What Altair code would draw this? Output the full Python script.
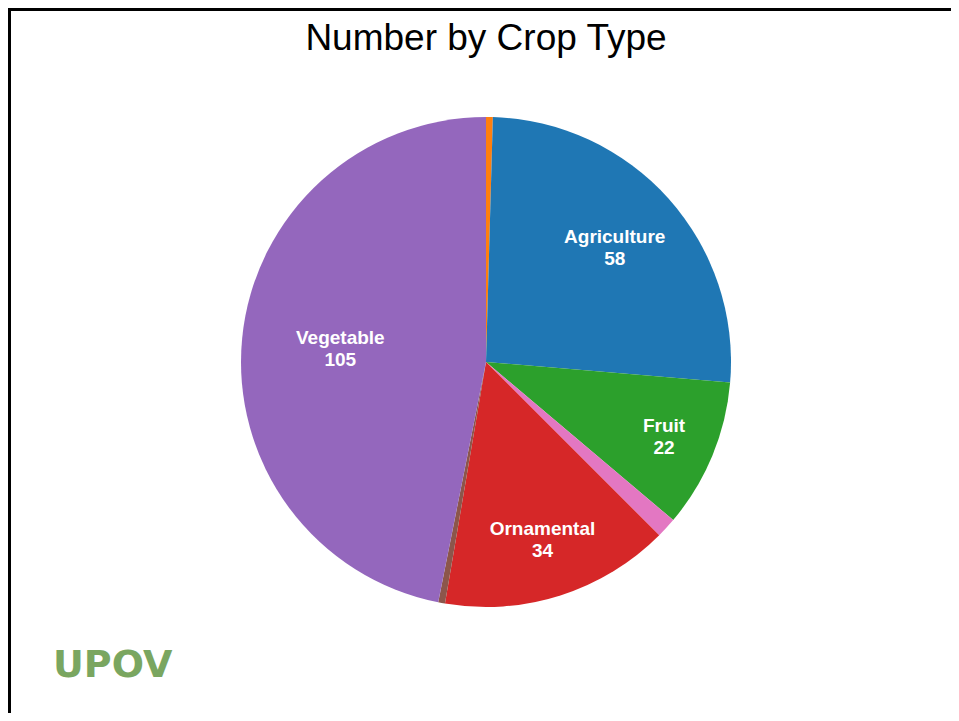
import altair as alt
import pandas as pd

# ---- data ----
categories = ["Forestry", "Agriculture", "Fruit", "Medicinal", "Ornamental", "Other", "Vegetable"]
counts = [1, 58, 22, 3, 34, 1, 105]
colors = ["#ff7f0e", "#1f77b4", "#2ca02c", "#e377c2", "#d62728", "#8c564b", "#9467bd"]
title_text = "Number by Crop Type"
logo_text = "UPOV"

df = pd.DataFrame({
    "crop": categories,
    "count": counts,
    "order": list(range(len(categories))),
})

W, H = 943, 705
CX, CY, R = 478, 354, 245
total = sum(counts)

base = alt.Chart(df)

pie = base.mark_arc(radius=R, strokeWidth=0).encode(
    theta=alt.Theta("count:Q", stack=True),
    color=alt.Color("crop:N", scale=alt.Scale(domain=categories, range=colors), legend=None),
    order=alt.Order("order:Q"),
    x=alt.value(CX),
    y=alt.value(CY),
)

labels = base.transform_calculate(
    label="datum.count >= 10 ? datum.crop + '\\n' + datum.count : ''"
).mark_text(
    font="Liberation Sans", fontWeight="bold", fontSize=19, color="white",
    lineBreak="\n", lineHeight=22, baseline="middle", align="center", dy=-10,
).encode(
    theta=alt.Theta("count:Q", stack=True),
    order=alt.Order("order:Q"),
    radius=alt.Radius("count:Q", scale=alt.Scale(type="linear", domain=[0, total], range=[205, 80], zero=False)),
    text="label:N",
    x=alt.value(CX),
    y=alt.value(CY),
)

title = alt.Chart(alt.Data(values=[{"t": title_text}])).mark_text(
    font="Liberation Sans", fontSize=37, color="black", align="center", baseline="alphabetic"
).encode(text="t:N", x=alt.value(CX), y=alt.value(42))

logo = alt.Chart(alt.Data(values=[{"t": logo_text}])).mark_text(
    font="DejaVu Sans", fontWeight="bold", fontSize=38, color="#7aa660", align="left", baseline="alphabetic"
).encode(text="t:N", x=alt.value(45), y=alt.value(669))

top_rule = alt.Chart(alt.Data(values=[{"a": 1}])).mark_rule(color="black", strokeWidth=3).encode(
    x=alt.value(0), x2=alt.value(W), y=alt.value(1.5)
)
left_rule = alt.Chart(alt.Data(values=[{"a": 1}])).mark_rule(color="black", strokeWidth=3).encode(
    x=alt.value(1.5), y=alt.value(0), y2=alt.value(H)
)

chart = alt.layer(pie, labels, title, logo, top_rule, left_rule).resolve_scale(
    theta="shared"
).properties(
    width=W, height=H, padding=0, autosize=alt.AutoSizeParams(type="none"), background="white"
).configure_view(strokeWidth=0)

chart.save("out.html", embed_options={"renderer": "svg", "actions": False})
